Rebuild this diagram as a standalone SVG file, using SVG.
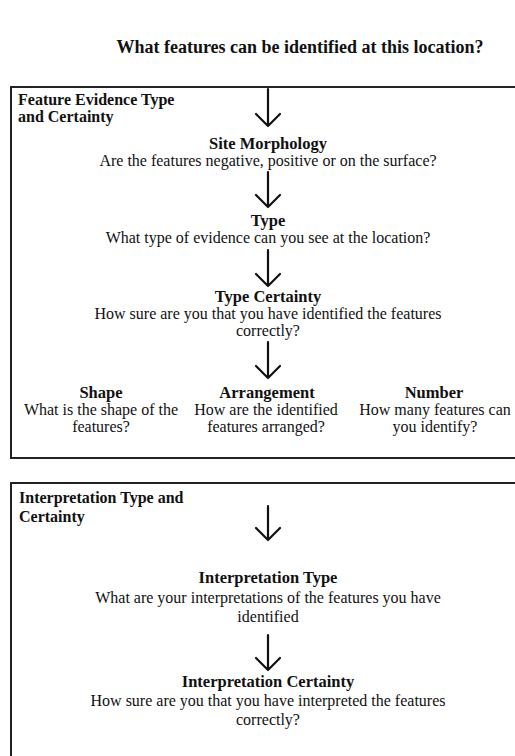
<svg xmlns="http://www.w3.org/2000/svg" width="515" height="756" viewBox="0 0 515 756">
<defs>
<style>
text{font-family:"Liberation Serif","Times New Roman",serif;fill:#111;}
.title{font-size:18px;font-weight:bold;text-anchor:middle;}
.sec{font-size:16px;font-weight:bold;}
.h{font-size:16.5px;font-weight:bold;text-anchor:middle;}
.b{font-size:16px;text-anchor:middle;}
.box{fill:none;stroke:#222;stroke-width:2;}
.arr{fill:none;stroke:#111;stroke-width:2.2;stroke-linecap:round;stroke-linejoin:round;}
</style>
</defs>
<rect width="515" height="756" fill="#fff"/>
<text class="title" x="300" y="53">What features can be identified at this location?</text>

<g id="box1">
<rect class="box" x="11" y="87" width="540" height="371"/>
<text class="sec" x="18" y="105">Feature Evidence Type</text>
<text class="sec" x="18" y="122">and Certainty</text>
</g>
<g id="site-morphology">
<text class="h" x="268" y="149">Site Morphology</text>
<text class="b" x="268" y="166">Are the features negative, positive or on the surface?</text>
</g>
<g id="type">
<text class="h" x="268" y="226">Type</text>
<text class="b" x="268" y="243">What type of evidence can you see at the location?</text>
</g>
<g id="type-certainty">
<text class="h" x="268" y="302">Type Certainty</text>
<text class="b" x="268" y="319">How sure are you that you have identified the features</text>
<text class="b" x="268" y="336">correctly?</text>
</g>
<g id="shape">
<text class="h" x="101" y="398">Shape</text>
<text class="b" x="101" y="415">What is the shape of the</text>
<text class="b" x="101" y="432">features?</text>
</g>
<g id="arrangement">
<text class="h" x="267" y="398">Arrangement</text>
<text class="b" x="266" y="415">How are the identified</text>
<text class="b" x="266" y="432">features arranged?</text>
</g>
<g id="number">
<text class="h" x="434" y="398">Number</text>
<text class="b" x="435" y="415">How many features can</text>
<text class="b" x="435" y="432">you identify?</text>
</g>

<g id="box2">
<rect class="box" x="11" y="483" width="540" height="300"/>
<text class="sec" x="19" y="503">Interpretation Type and</text>
<text class="sec" x="19" y="522">Certainty</text>
</g>
<g id="interpretation-type">
<text class="h" x="268" y="583">Interpretation Type</text>
<text class="b" x="268" y="603">What are your interpretations of the features you have</text>
<text class="b" x="268" y="622">identified</text>
</g>
<g id="interpretation-certainty">
<text class="h" x="268" y="687">Interpretation Certainty</text>
<text class="b" x="268" y="706">How sure are you that you have interpreted the features</text>
<text class="b" x="268" y="725">correctly?</text>
</g>

<g id="connectors">
<path class="arr" d="M268 89V126M256 114L268 126L280 114"/>
<path class="arr" d="M268 172V207M256 195L268 207L280 195"/>
<path class="arr" d="M268 250V286M256 274L268 286L280 274"/>
<path class="arr" d="M268 342V378M256 366L268 378L280 366"/>
<path class="arr" d="M268 506V540M256 528L268 540L280 528"/>
<path class="arr" d="M268 635V670M256 658L268 670L280 658"/>
</g>
</svg>
